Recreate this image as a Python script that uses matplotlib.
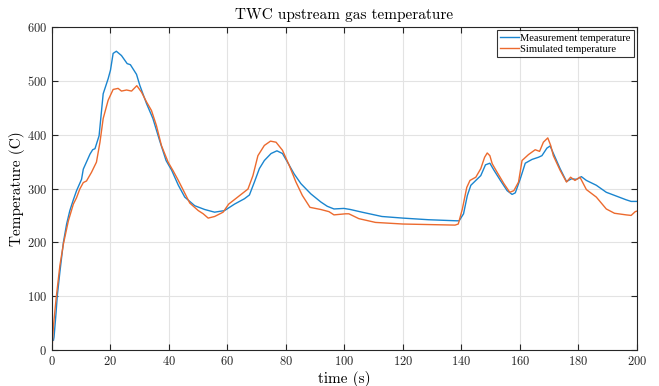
import matplotlib
matplotlib.use("Agg")
import matplotlib.pyplot as plt

plt.rcParams['font.family'] = ['cmr10', 'DejaVu Serif']
plt.rcParams['mathtext.fontset'] = 'cm'
plt.rcParams['axes.formatter.use_mathtext'] = True

# measured gas temperature upstream of the TWC
t_meas = [0.5, 0.7, 1.4, 1.8, 2.7, 3.9, 5.0, 6.1, 7.3, 8.4, 10.1, 10.7, 13.0, 13.9,
          14.7, 16.1, 17.5, 19.2, 20.0, 20.9, 22.0, 23.75, 25.7, 26.8, 28.9, 30.0,
          32.3, 34.5, 36.8, 39.0, 40.9, 43.2, 45.4, 48.8, 52.2, 55.6, 59.0, 62.4,
          65.8, 67.5, 69.2, 70.9, 72.6, 74.9, 76.9, 78.8, 80.5, 82.8, 85.1, 88.5,
          91.9, 94.1, 96.4, 99.8, 102.0, 106.0, 112.8, 120.0, 128.7, 138.3, 139.2,
          140.7, 142.0, 143.2, 144.9, 146.6, 148.2, 149.7, 151.1, 153.3, 155.6,
          157.3, 158.4, 160.1, 161.8, 164.1, 166.3, 167.5, 169.2, 170.3, 172.0,
          173.7, 175.9, 177.6, 179.3, 181.0, 182.7, 186.1, 189.5, 192.9, 196.3,
          198.0, 200.0]
T_meas = [18, 24, 70, 100, 145, 200, 234, 259, 279, 296, 317, 336, 364, 372,
          374, 398, 476, 504, 520, 551, 555, 547, 532, 530, 512, 492,
          458, 430, 389, 352, 334, 306, 284, 268, 261, 256, 259, 271,
          281, 288, 312, 337, 352, 365, 370, 365, 349, 327, 309, 290,
          275, 267, 262, 263, 261, 256, 248, 245, 242, 240, 240,
          253, 287, 306, 315, 324, 344, 347, 334, 315, 296,
          289, 292, 318, 347, 354, 358, 361, 375, 379, 358,
          337, 313, 318, 317, 322, 315, 306, 293, 286, 279,
          276, 276]

# simulated gas temperature
t_sim = [0.0, 0.5, 1.4, 2.7, 3.9, 5.6, 7.3, 8.4, 9.5, 10.7, 11.8, 13.5, 15.2,
         16.4, 17.5, 19.2, 20.9, 22.6, 23.75, 25.5, 27.2, 29.0, 30.6, 32.3, 34.0,
         35.7, 37.4, 39.7, 41.4, 43.0, 44.5, 47.1, 50.0, 51.7, 53.4, 55.6, 58.5,
         60.4, 63.0, 67.0, 68.7, 70.4, 72.6, 74.7, 76.6, 78.8, 81.1, 83.4, 85.6,
         88.2, 91.9, 94.7, 96.4, 100.4, 101.5, 104.9, 110.6, 120.0, 137.8, 138.9,
         140.3, 141.8, 142.9, 144.9, 146.6, 147.9, 148.8, 149.7, 150.5, 152.2,
         154.5, 156.5, 157.9, 159.5, 160.7, 162.9, 165.2, 166.7, 168.0, 169.5,
         170.5, 171.4, 173.7, 175.9, 177.3, 178.8, 180.5, 182.7, 186.1, 189.5,
         192.3, 196.3, 198.0, 199.4, 200.0]
T_sim = [0, 45, 95, 157, 197, 240, 271, 283, 299, 311, 314, 330, 349,
         386, 430, 464, 484, 486, 481, 483, 481, 491, 479, 461, 445,
         417, 380, 349, 333, 317, 301, 273, 259, 253, 245, 248, 256,
         271, 282, 299, 324, 361, 380, 388, 386, 371, 343, 312, 287,
         265, 261, 257, 251, 253, 253, 244, 237, 234, 232, 234,
         262, 302, 315, 321, 337, 358, 366, 361, 346, 330,
         309, 293, 296, 312, 352, 363, 372, 369, 386, 394,
         380, 361, 334, 312, 321, 315, 321, 298, 284, 262,
         254, 251, 250, 257, 258]

fig = plt.figure(figsize=(6.59, 3.86), dpi=100)
ax = fig.add_axes([0.0789, 0.0933, 0.8877, 0.8367])

ax.plot(t_meas, T_meas, color='#1a85cf', lw=1.0, label='Measurement temperature')
ax.plot(t_sim, T_sim, color='#ec6a2e', lw=1.0, label='Simulated temperature')

ax.set_xlim(0, 200)
ax.set_ylim(0, 600)
ax.set_xticks(range(0, 201, 20))
ax.set_yticks(range(0, 601, 100))
ax.grid(True, color='#e3e3e3', lw=0.8)
ax.set_axisbelow(True)
ax.tick_params(direction='in', top=True, right=True, labelsize=9, length=4,
               width=0.8, colors='#262626', labelcolor='#262626')
for s in ax.spines.values():
    s.set_color('#262626')
    s.set_linewidth(0.8)

ax.set_title('TWC upstream gas temperature', fontsize=11, pad=6)
ax.set_xlabel('time (s)', fontsize=11, labelpad=2)
ax.set_ylabel('Temperature (C)', fontsize=11, labelpad=1)

leg = ax.legend(loc='upper right', frameon=True, fancybox=False,
                prop={'family': 'Liberation Serif', 'size': 7.6},
                handlelength=1.8, handletextpad=0.1, borderpad=0.3,
                labelspacing=0.15, borderaxespad=0.3, edgecolor='black')
leg.get_frame().set_linewidth(0.8)

fig.savefig('out.png', dpi=100)
